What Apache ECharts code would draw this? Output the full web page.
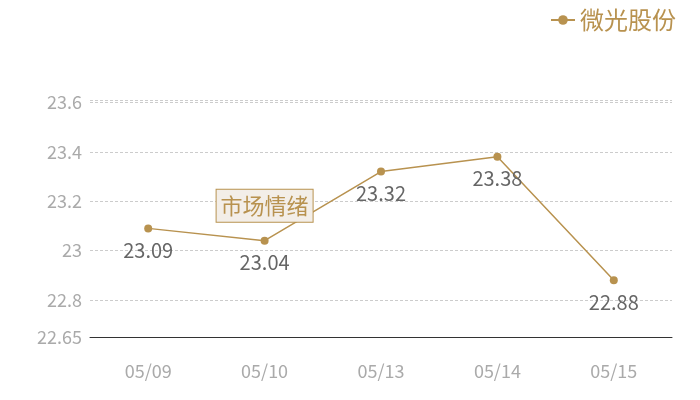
<!DOCTYPE html>
<html><head><meta charset="utf-8">
<script src="https://cdn.jsdelivr.net/npm/echarts@6/dist/echarts.min.js"></script>
<style>html,body{margin:0;padding:0;background:#fff}#c{width:700px;height:400px}</style>
</head><body><div id="c"></div>
<script>
const categories = ['05/09', '05/10', '05/13', '05/14', '05/15'];
const seriesName = '微光股份';
const values = [23.09, 23.04, 23.32, 23.38, 22.88];
const markText = '市场情绪';
const markCategory = '05/10';
const markValue = 23.04;
const yMin = 22.65, yMax = 23.61;

const gold = '#b8924f';
const chart = echarts.init(document.getElementById('c'));
chart.setOption({
  animation: false,
  textStyle: { fontFamily: '"Noto Sans CJK SC", "Noto Sans", sans-serif' },
  legend: {
    right: 19, top: 3, itemWidth: 24, itemHeight: 12, itemGap: 6,
    textStyle: { color: gold, fontSize: 24 },
    data: [seriesName]
  },
  grid: { left: 90, right: 28, top: 100, bottom: 63 },
  xAxis: {
    type: 'category', data: categories,
    axisLine: { lineStyle: { color: '#333' } },
    axisTick: { show: false },
    axisLabel: { color: '#aaa', fontSize: 18, margin: 25 }
  },
  yAxis: {
    type: 'value', min: yMin, max: yMax,
    axisLine: { show: false }, axisTick: { show: false },
    axisLabel: { color: '#aaa', fontSize: 18, margin: 8, showMaxLabel: false },
    splitLine: { lineStyle: { color: '#ccc', type: [3, 2] } }
  },
  series: [{
    name: seriesName, type: 'line', data: values,
    symbol: 'circle', symbolSize: 8,
    itemStyle: { color: gold },
    lineStyle: { color: gold, width: 1.5 },
    label: { show: true, position: 'bottom', distance: 8, color: '#666', fontSize: 20 },
    markPoint: {
      symbol: 'rect', symbolSize: 0,
      data: [{ coord: [markCategory, markValue], value: markText }],
      label: {
        show: true, formatter: markText, offset: [0, -35],
        color: gold, fontSize: 22,
        backgroundColor: '#f3eee8', borderColor: gold, borderWidth: 1,
        padding: [6, 4, 4, 4]
      }
    }
  }]
});
</script></body></html>
